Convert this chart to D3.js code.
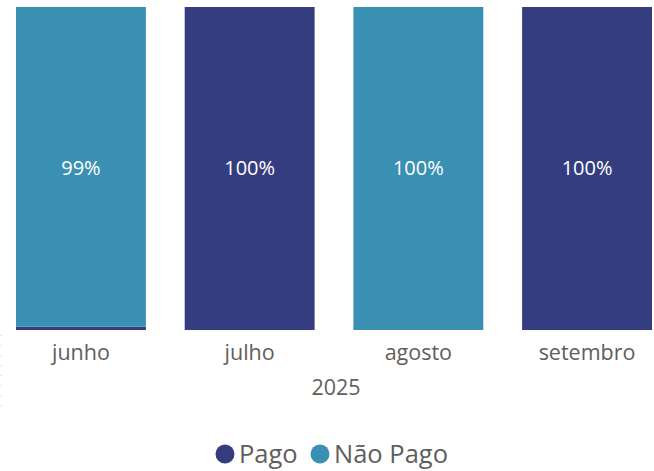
<!DOCTYPE html>
<html>
<head>
<meta charset="utf-8">
<script src="https://cdn.jsdelivr.net/npm/d3@7"></script>
<style>
  body { margin: 0; background: #fff; }
  text { font-family: "Segoe UI", "Open Sans", "Noto Sans", sans-serif; }
</style>
</head>
<body>
<div id="chart"></div>
<script>
var svgWidth = 654;
var svgHeight = 471;

// chart data
var months = ["junho", "julho", "agosto", "setembro"];
var series = ["Pago", "Não Pago"];
var pago = [0.01, 1.00, 0.00, 1.00];
var naoPago = [0.99, 0.00, 1.00, 0.00];
var barLabels = ["99%", "100%", "100%", "100%"];
var axisTitle = "2025";

var colors = { "Pago": "#353d81", "Não Pago": "#3a90b3" };

var svg = d3.select("#chart")
  .append("svg")
  .attr("width", svgWidth)
  .attr("height", svgHeight);

// build rows for the stack
var rows = months.map(function(m, i) {
  return { month: m, "Pago": pago[i], "Não Pago": naoPago[i], label: barLabels[i] };
});

var xScale = d3.scaleBand()
  .domain(months)
  .range([16, 652])
  .paddingInner(0.23)
  .paddingOuter(0);

var yScale = d3.scaleLinear()
  .domain([0, 1])
  .range([330, 7]);

var stacked = d3.stack().keys(series)(rows);

// bars
svg.selectAll("g.layer")
  .data(stacked)
  .enter()
  .append("g")
  .attr("class", "layer")
  .attr("fill", d => colors[d.key])
  .selectAll("rect")
  .data(d => d)
  .enter()
  .append("rect")
  .attr("x", d => xScale(d.data.month))
  .attr("y", d => yScale(d[1]))
  .attr("width", xScale.bandwidth())
  .attr("height", d => yScale(d[0]) - yScale(d[1]));

// data labels on the largest segment
svg.selectAll("text.bar-label")
  .data(rows)
  .enter()
  .append("text")
  .attr("class", "bar-label")
  .attr("x", d => xScale(d.month) + xScale.bandwidth() / 2)
  .attr("y", yScale(0.5) - 1)
  .attr("dy", "0.35em")
  .attr("text-anchor", "middle")
  .attr("fill", "#ffffff")
  .attr("font-size", "20px")
  .text(d => d.label);

// x axis
var xAxis = svg.append("g")
  .attr("transform", "translate(0, 330)")
  .call(d3.axisBottom(xScale).tickSize(0).tickPadding(15));
xAxis.select(".domain").remove();
xAxis.selectAll("text")
  .attr("fill", "#605e5c")
  .attr("font-size", "21.5px")
  .style("font-family", "\"Segoe UI\", \"Open Sans\", \"Noto Sans\", sans-serif");

svg.append("text")
  .attr("x", 336)
  .attr("y", 395)
  .attr("text-anchor", "middle")
  .attr("fill", "#605e5c")
  .attr("font-size", "21.5px")
  .text(axisTitle);

// faint dotted edge at the left
svg.append("line")
  .attr("x1", 1).attr("x2", 1)
  .attr("y1", 335).attr("y2", 410)
  .attr("stroke", "#c8c8c8")
  .attr("stroke-dasharray", "1,9");

// legend
var legend = svg.append("g")
  .attr("transform", "translate(0, 454)");

var legendX = [225, 320];
series.forEach(function(s, i) {
  legend.append("circle")
    .attr("cx", legendX[i])
    .attr("cy", 0)
    .attr("r", 9.5)
    .attr("fill", colors[s]);
  legend.append("text")
    .attr("x", legendX[i] + 14)
    .attr("y", 0)
    .attr("dy", "0.35em")
    .attr("fill", "#605e5c")
    .attr("font-size", "25.5px")
    .text(s);
});
</script>
</body>
</html>
